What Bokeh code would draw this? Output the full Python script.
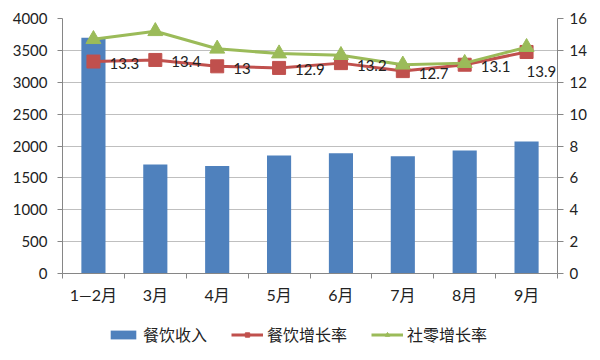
from bokeh.plotting import figure
from bokeh.layouts import column
from bokeh.models import Range1d, LinearAxis, FixedTicker, Legend, LegendItem, ColumnDataSource
from bokeh.core.properties import value
from bokeh.embed import file_html
from bokeh.resources import INLINE

months = ["1—2月", "3月", "4月", "5月", "6月", "7月", "8月", "9月"]
catering_revenue = [3700, 1710, 1685, 1850, 1885, 1840, 1930, 2070]
catering_growth = [13.3, 13.4, 13.0, 12.9, 13.2, 12.7, 13.1, 13.9]
retail_growth = [14.7, 15.2, 14.1, 13.8, 13.7, 13.1, 13.2, 14.2]
series_names = ["餐饮收入", "餐饮增长率", "社零增长率"]

BLUE = "#4f81bd"
RED = "#c0504d"
GREEN = "#9bbb59"
GRID = "#bfbfbf"
AXIS = "#868686"
TXT = "#222222"
FONT = "Lato, 'Noto Sans CJK SC'"

xs = [i + 0.5 for i in range(len(months))]

p = figure(width=600, height=306, output_backend="svg", toolbar_location=None,
           x_range=Range1d(0, len(months)), y_range=Range1d(0, 4000),
           min_border_left=62, min_border_right=43, min_border_top=18, min_border_bottom=29)
p.extra_y_ranges = {"rate": Range1d(0, 16)}
p.outline_line_color = None
p.background_fill_color = "white"
p.border_fill_color = "white"

# axes
p.xaxis.ticker = FixedTicker(ticks=xs, minor_ticks=list(range(len(months) + 1)))
p.xaxis.major_label_overrides = {x: m for x, m in zip(xs, months)}
p.xaxis.major_tick_line_color = None
p.xaxis.major_tick_out = 0
p.xaxis.minor_tick_out = 5
p.xaxis.minor_tick_in = 0
p.xaxis.minor_tick_line_color = AXIS
p.xaxis.axis_line_color = AXIS
p.xaxis.major_label_standoff = 6
p.xaxis.major_label_text_font = FONT
p.xaxis.major_label_text_font_size = "16px"
p.xaxis.major_label_text_color = TXT

p.yaxis.ticker = FixedTicker(ticks=list(range(0, 4001, 500)))
p.yaxis.axis_line_color = AXIS
p.yaxis.major_tick_line_color = AXIS
p.yaxis.major_tick_out = 5
p.yaxis.major_tick_in = 0
p.yaxis.minor_tick_line_color = None
p.yaxis.major_label_standoff = 10
p.yaxis.major_label_text_font = FONT
p.yaxis.major_label_text_font_size = "15px"
p.yaxis.major_label_text_color = TXT

ry = LinearAxis(y_range_name="rate", ticker=FixedTicker(ticks=list(range(0, 17, 2))))
ry.axis_line_color = AXIS
ry.major_tick_line_color = AXIS
ry.major_tick_out = 6
ry.major_tick_in = 0
ry.minor_tick_line_color = None
ry.major_label_standoff = 6
ry.major_label_text_font = FONT
ry.major_label_text_font_size = "15px"
ry.major_label_text_color = TXT
p.add_layout(ry, "right")

p.xgrid.grid_line_color = None
p.ygrid.grid_line_color = GRID
p.ygrid.ticker = FixedTicker(ticks=list(range(0, 4001, 500)))

src = ColumnDataSource(dict(x=xs, rev=catering_revenue, cg=catering_growth, rg=retail_growth))

p.vbar(x="x", top="rev", width=0.39, source=src, fill_color=BLUE, line_color=None)
p.line("x", "cg", source=src, y_range_name="rate", line_color=RED, line_width=3)
p.scatter("x", "cg", source=src, y_range_name="rate", marker="square", size=13,
          fill_color=RED, line_color=RED)
p.line("x", "rg", source=src, y_range_name="rate", line_color=GREEN, line_width=3)
p.scatter("x", "rg", source=src, y_range_name="rate", marker="triangle", size=15,
          fill_color=GREEN, line_color=GREEN)

n = len(months)
src_a = ColumnDataSource(dict(x=xs[:n - 1], y=catering_growth[:n - 1],
                              lab=[("%g" % v) for v in catering_growth[:n - 1]]))
src_b = ColumnDataSource(dict(x=xs[n - 1:], y=catering_growth[n - 1:],
                              lab=[("%g" % v) for v in catering_growth[n - 1:]]))
p.text("x", "y", text="lab", source=src_a, y_range_name="rate", x_offset=16, y_offset=2,
       text_align="left", text_baseline="middle", text_font=value("Lato"),
       text_font_size="15px", text_color=TXT)
p.text("x", "y", text="lab", source=src_b, y_range_name="rate", x_offset=0, y_offset=20,
       text_align="left", text_baseline="middle", text_font=value("Lato"),
       text_font_size="15px", text_color=TXT)

# legend strip below the chart (sample glyphs kept outside the visible range)
lp = figure(width=600, height=54, output_backend="svg", toolbar_location=None,
            x_range=Range1d(0, 1), y_range=Range1d(0, 1),
            min_border_left=0, min_border_right=0, min_border_top=0, min_border_bottom=0)
lp.axis.visible = False
lp.grid.visible = False
lp.outline_line_color = None
lp.border_fill_color = "white"
off = [-5]
lb = lp.vbar(x=off, top=off, width=0.4, fill_color=BLUE, line_color=None)
ll1 = lp.line(x=off, y=off, line_color=RED, line_width=3)
lm1 = lp.scatter(x=off, y=off, marker="square", size=11, fill_color=RED, line_color=RED)
ll2 = lp.line(x=off, y=off, line_color=GREEN, line_width=3)
lm2 = lp.scatter(x=off, y=off, marker="triangle", size=12, fill_color=GREEN, line_color=GREEN)

legend = Legend(items=[
    LegendItem(label=series_names[0], renderers=[lb]),
    LegendItem(label=series_names[1], renderers=[ll1, lm1]),
    LegendItem(label=series_names[2], renderers=[ll2, lm2]),
], orientation="horizontal", location=(45, 14))
legend.glyph_width = 32
legend.glyph_height = 11
legend.label_standoff = 4
legend.spacing = 24
legend.label_text_font = "Noto Sans CJK SC"
legend.label_text_font_size = "16px"
legend.label_text_color = TXT
legend.border_line_color = None
legend.background_fill_alpha = 0
legend.padding = 2
legend.margin = 0
lp.add_layout(legend, "center")

layout = column(p, lp, spacing=0)
open("out.html", "w").write(file_html(layout, INLINE))
